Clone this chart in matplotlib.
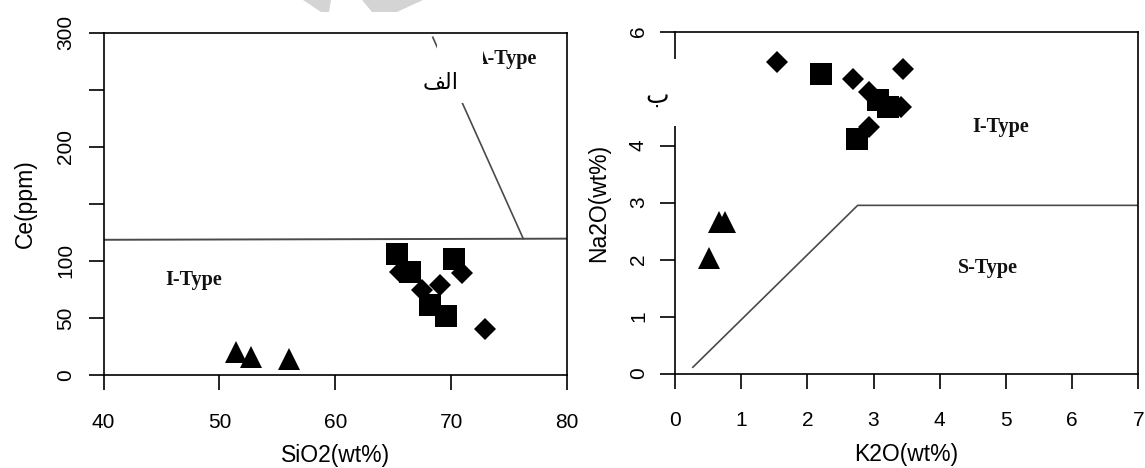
import matplotlib
matplotlib.use('Agg')
import matplotlib.pyplot as plt
from matplotlib.patches import Rectangle, Polygon

# ---------------- data ----------------
# Left panel: Ce (ppm) vs SiO2 (wt%)
left_tri_sio2 = [51.4, 52.75, 56.0]
left_tri_ce = [20.4, 15.9, 14.2]
left_sq_sio2 = [65.3, 66.45, 70.24, 68.17, 69.55]
left_sq_ce = [105.7, 90.3, 101.4, 61.2, 51.6]
left_dia_sio2 = [65.58, 67.45, 69.03, 70.9, 72.91]
left_dia_ce = [90.0, 74.3, 78.7, 89.1, 40.2]
left_h_boundary_x = [40, 80]
left_h_boundary_y = [118.5, 119.5]
left_d_boundary_x = [68.4, 76.2]
left_d_boundary_y = [296, 119.5]
left_xticks = [40, 50, 60, 70, 80]
left_yticks = [0, 50, 100, 150, 200, 250, 300]
left_yticklabels = ['0', '50', '100', '', '200', '', '300']

# Right panel: Na2O (wt%) vs K2O (wt%)
right_tri_k2o = [0.665, 0.755, 0.51]
right_tri_na2o = [2.66, 2.66, 2.03]
right_sq_k2o = [2.20, 3.07, 3.22, 2.75]
right_sq_na2o = [5.25, 4.80, 4.68, 4.11]
right_dia_k2o = [1.536, 2.694, 3.44, 2.93, 3.41, 2.93]
right_dia_na2o = [5.46, 5.16, 5.34, 4.93, 4.68, 4.32]
right_boundary_x = [0.27, 2.76, 7.0]
right_boundary_y = [0.11, 2.95, 2.95]
right_xticks = [0, 1, 2, 3, 4, 5, 6, 7]
right_yticks = [0, 1, 2, 3, 4, 5, 6]
right_yticklabels = ['0', '1', '2', '3', '4', '', '6']

# ---------------- figure ----------------
W, H = 1145, 468
fig = plt.figure(figsize=(W / 100, H / 100), dpi=100)
fig.patch.set_facecolor('white')

sans = ['Liberation Sans', 'DejaVu Sans']
serif = ['Liberation Serif', 'DejaVu Serif']
tick_fs = 15
label_fs = 16.5
type_fs = 14.5


def px_axes(x0, x1, ytop, ybot):
    return fig.add_axes([x0 / W, (H - ybot) / H, (x1 - x0) / W, (ybot - ytop) / H])


def style(ax, ypad):
    for s in ax.spines.values():
        s.set_linewidth(1.2)
        s.set_color('black')
    ax.tick_params(axis='both', direction='out', length=10.5, width=1.2,
                   colors='black', labelsize=tick_fs)
    ax.tick_params(axis='x', pad=16.5)
    ax.tick_params(axis='y', pad=ypad)
    for lab in ax.get_xticklabels() + ax.get_yticklabels():
        lab.set_family(sans)
    for lab in ax.get_yticklabels():
        lab.set_rotation(90)
        lab.set_va('center')
        lab.set_ha('right')


mk = dict(linestyle='none', color='black', markeredgewidth=0)

# ---- left ----
ax1 = px_axes(103.5, 567.3, 32.7, 375)
ax1.set_xlim(40, 80)
ax1.set_ylim(0, 300)
ax1.set_xticks(left_xticks)
ax1.set_yticks(left_yticks)
ax1.set_yticklabels(left_yticklabels)
ax1.plot(left_h_boundary_x, left_h_boundary_y, color='#4a4a4a', lw=1.4, zorder=1)
ax1.plot(left_d_boundary_x, left_d_boundary_y, color='#4a4a4a', lw=1.2, zorder=1)
ax1.plot(left_tri_sio2, left_tri_ce, marker='^', markersize=16.5, **mk, zorder=3)
ax1.plot(left_sq_sio2, left_sq_ce, marker='s', markersize=16, **mk, zorder=3)
ax1.plot(left_dia_sio2, left_dia_ce, marker='D', markersize=11.5, **mk, zorder=3)
ax1.text(47.8, 83, 'I-Type', family=serif, weight='bold', fontsize=type_fs,
         ha='center', va='center', color='#111')
ax1.text(74.7, 277, 'A-Type', family=serif, weight='bold', fontsize=type_fs,
         ha='center', va='center', color='#111')
ax1.set_xlabel('SiO2(wt%)', family=sans, fontsize=label_fs, va='center')
ax1.xaxis.set_label_coords(0.5, -0.236)
ax1.set_ylabel('Ce(ppm)', family=sans, fontsize=label_fs, va='center')
ax1.yaxis.set_label_coords(-0.169, 0.5)
style(ax1, 10)

# ---- right ----
ax2 = px_axes(675, 1138.3, 31.5, 373.5)
ax2.set_xlim(0, 7)
ax2.set_ylim(0, 6)
ax2.set_xticks(right_xticks)
ax2.set_yticks(right_yticks)
ax2.set_yticklabels(right_yticklabels)
ax2.plot(right_boundary_x, right_boundary_y, color='#4a4a4a', lw=1.2, zorder=1)
ax2.plot(right_tri_k2o, right_tri_na2o, marker='^', markersize=16.5, **mk, zorder=3)
ax2.plot(right_sq_k2o, right_sq_na2o, marker='s', markersize=16, **mk, zorder=3)
ax2.plot(right_dia_k2o, right_dia_na2o, marker='D', markersize=11.5, **mk, zorder=3)
ax2.text(4.92, 4.32, 'I-Type', family=serif, weight='bold', fontsize=type_fs,
         ha='center', va='center', color='#111')
ax2.text(4.73, 1.85, 'S-Type', family=serif, weight='bold', fontsize=type_fs,
         ha='center', va='center', color='#111')
ax2.set_xlabel('K2O(wt%)', family=sans, fontsize=label_fs, va='center')
ax2.xaxis.set_label_coords(0.5, -0.238)
ax2.set_ylabel('Na2O(wt%)', family=sans, fontsize=label_fs, va='center')
ax2.yaxis.set_label_coords(-0.165, 0.5)
style(ax2, 9)


# ---- overlays: white boxes behind the Arabic panel letters ----
def fig_rect(x0, x1, y0, y1):
    r = Rectangle((x0 / W, 1 - y1 / H), (x1 - x0) / W, (y1 - y0) / H,
                  transform=fig.transFigure, facecolor='white', edgecolor='none',
                  zorder=5)
    fig.add_artist(r)


fig_rect(437, 483, 45, 103)
fig_rect(618, 679, 59, 126)

arabic = ['DejaVu Sans']
# "الف" written with Arabic presentation forms in visual order
fig.text(441 / W, 1 - 82 / H, '\uFED2\uFEDF\uFE8D', family=arabic, fontsize=16,
         ha='center', va='center', zorder=6)
fig.text(657 / W, 1 - 96 / H, '\u0628', family=arabic, fontsize=18,
         ha='center', va='center', zorder=6)

# faint watermark fragment at the top
for pts in ([(303, 0), (331, 0), (329, 12), (321, 12)],
            [(362, 0), (423, 0), (397, 12), (372, 12)]):
    poly = Polygon([(x / W, 1 - y / H) for x, y in pts], closed=True,
                   transform=fig.transFigure, facecolor='#d4d4d4',
                   edgecolor='none', zorder=4)
    fig.add_artist(poly)

fig.savefig('out.png', dpi=100, facecolor='white')
